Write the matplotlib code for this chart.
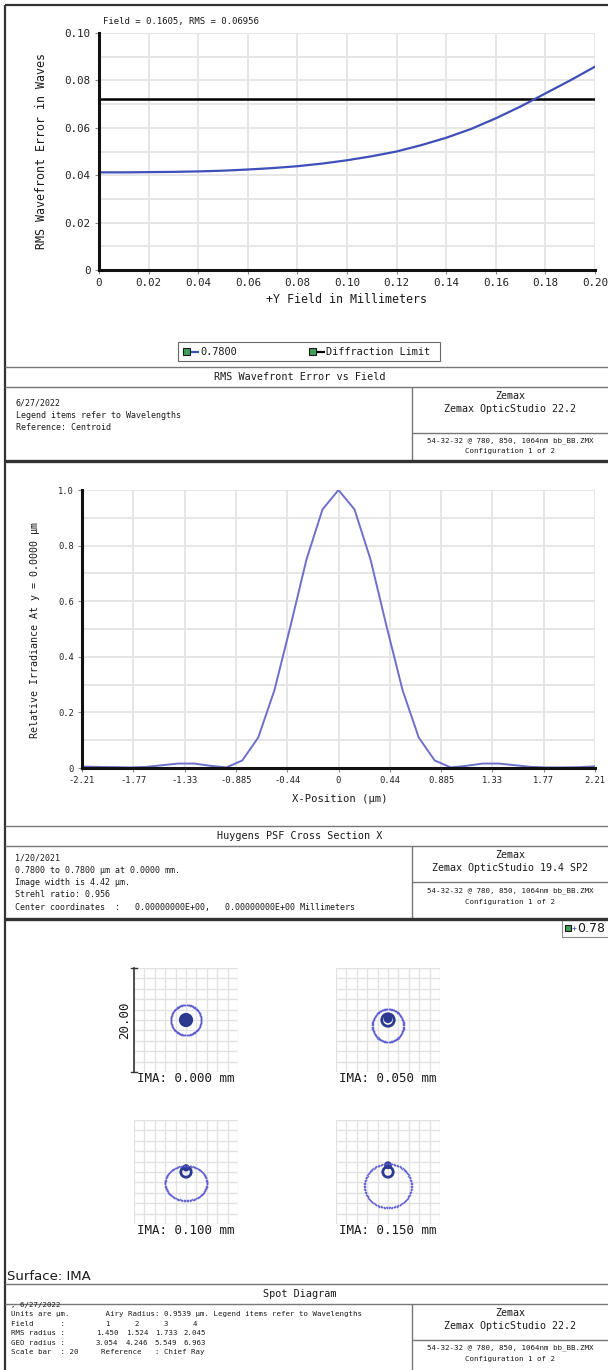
import numpy as np
import matplotlib
matplotlib.use("Agg")
import matplotlib.pyplot as plt
from matplotlib.patches import Rectangle, Circle

MONO = "DejaVu Sans Mono"
W, H = 608, 1370

# ── RMS wavefront error vs field ─────────────────────────────────────────────
field_mm = [0.00, 0.01, 0.02, 0.03, 0.04, 0.05, 0.06, 0.07, 0.08, 0.09, 0.10,
            0.11, 0.12, 0.13, 0.14, 0.15, 0.16, 0.17, 0.18, 0.19, 0.20]
rms_waves = [0.0412, 0.0412, 0.0413, 0.0414, 0.0416, 0.0419, 0.0424, 0.0430,
             0.0438, 0.0449, 0.0463, 0.0480, 0.0500, 0.0527, 0.0558, 0.0595,
             0.0640, 0.0690, 0.0745, 0.0800, 0.0858]
diff_limit = 0.072
rms_xticks = [0, 0.02, 0.04, 0.06, 0.08, 0.10, 0.12, 0.14, 0.16, 0.18, 0.20]
rms_xlabels = ["0", "0.02", "0.04", "0.06", "0.08", "0.10", "0.12", "0.14",
               "0.16", "0.18", "0.20"]
rms_yticks = [0, 0.02, 0.04, 0.06, 0.08, 0.10]
rms_ylabels = ["0", "0.02", "0.04", "0.06", "0.08", "0.10"]
rms_ygrid = [0.01, 0.03, 0.05, 0.07, 0.09]

# ── Huygens PSF cross section ───────────────────────────────────────────────
psf_x = [-2.210, -2.072, -1.934, -1.796, -1.658, -1.519, -1.381, -1.243,
         -1.105, -0.967, -0.829, -0.691, -0.552, -0.414, -0.276, -0.138, 0.0,
         0.138, 0.276, 0.414, 0.552, 0.691, 0.829, 0.967, 1.105, 1.243, 1.381,
         1.519, 1.658, 1.796, 1.934, 2.072, 2.210]
psf_y = [0.005, 0.004, 0.003, 0.002, 0.004, 0.010, 0.016, 0.016, 0.008,
         0.002, 0.027, 0.110, 0.280, 0.510, 0.750, 0.930, 1.000,
         0.930, 0.750, 0.510, 0.280, 0.110, 0.027, 0.002, 0.008, 0.016,
         0.016, 0.010, 0.004, 0.002, 0.002, 0.003, 0.006]
psf_xticks = [-2.21, -1.768, -1.326, -0.884, -0.442, 0, 0.442, 0.884, 1.326,
              1.768, 2.21]
psf_xlabels = ["-2.21", "-1.77", "-1.33", "-0.885", "-0.44", "0", "0.44",
               "0.885", "1.33", "1.77", "2.21"]
psf_yticks = [0, 0.2, 0.4, 0.6, 0.8, 1.0]
psf_ylabels = ["0", "0.2", "0.4", "0.6", "0.8", "1.0"]
psf_ygrid = [0.1, 0.3, 0.5, 0.7, 0.9]

# ── Spot diagram (µm, relative to chief ray) ────────────────────────────────
spot_labels = ["IMA: 0.000 mm", "IMA: 0.050 mm", "IMA: 0.100 mm", "IMA: 0.150 mm"]
ring_dy = [0.0, -1.05, -2.15, -2.65]
ring_rx = [2.95, 3.05, 4.1, 4.6]
ring_ry = [2.95, 3.2, 3.4, 4.3]
core_r = [1.1, 1.2, 1.0, 1.0]
dot_dy = [0.0, 0.25, 0.8, 1.3]
dot_r = [1.1, 0.85, 0.7, 0.75]
spot_fields = ["1", "2", "3", "4"]
rms_radius = ["1.450", "1.524", "1.733", "2.045"]
geo_radius = ["3.054", "4.246", "5.549", "6.963"]

fig = plt.figure(figsize=(W / 100, H / 100), dpi=100, facecolor="white")
bg = fig.add_axes([0, 0, 1, 1])
bg.set_xlim(0, W)
bg.set_ylim(H, 0)
bg.set_axis_off()


def px_axes(x0, y0, x1, y1):
    return fig.add_axes([x0 / W, 1 - y1 / H, (x1 - x0) / W, (y1 - y0) / H])


def line(x0, y0, x1, y1, lw=1.0, color="#444444"):
    bg.plot([x0, x1], [y0, y1], color=color, lw=lw, solid_capstyle="butt")


def txt(x, y, s, size=6.5, ha="left", **kw):
    bg.text(x, y, s, fontsize=size, ha=ha, va="center", family=MONO,
            color="#1a1a1a", **kw)


def footer(top, title, left_lines, left_x, left_y0, left_dy, left_size,
           version, bottom):
    line(5, top, W, top, lw=1.0, color="#777777")
    txt(300, top + 10, title, size=7.3, ha="center")
    line(5, top + 20, W, top + 20, lw=1.0, color="#777777")
    for i, s in enumerate(left_lines):
        txt(left_x, left_y0 + i * left_dy, s, size=left_size)
    line(412, top + 20, 412, bottom, lw=1.0, color="#777777")
    txt(510, top + 29, "Zemax", size=7.2, ha="center")
    txt(510, top + 42, version, size=7.2, ha="center")


def style_axes(ax, xt, xl, yt, yl, ygrid, size):
    ax.set_xticks(xt)
    ax.set_xticklabels(xl, family=MONO, fontsize=size)
    ax.set_yticks(yt)
    ax.set_yticklabels(yl, family=MONO, fontsize=size)
    ax.set_yticks(ygrid, minor=True)
    ax.grid(True, which="both", color="#E4E4E4", lw=1.3)
    ax.set_axisbelow(True)
    for s in ("top", "right"):
        ax.spines[s].set_visible(False)
    for s in ("left", "bottom"):
        ax.spines[s].set_color("#111111")
        ax.spines[s].set_linewidth(2.2)
    ax.tick_params(which="major", length=3, width=0.8, color="#888888",
                   labelcolor="#222222", pad=3)
    ax.tick_params(which="minor", length=0)


# outer frame
line(5, 5, 5, H, lw=1.6, color="#333333")
line(5, 5, W, 5, lw=1.6, color="#333333")

# ── Panel 1 ─────────────────────────────────────────────────────────────────
ax1 = px_axes(99, 33, 595, 270)
ax1.set_xlim(0, 0.20)
ax1.set_ylim(0, 0.10)
style_axes(ax1, rms_xticks, rms_xlabels, rms_yticks, rms_ylabels, rms_ygrid, 7.8)
ax1.axhline(diff_limit, color="black", lw=1.8)
ax1.plot(field_mm, rms_waves, color="#3E4FB8", lw=1.6)
txt(103, 21, "Field = 0.1605, RMS = 0.06956", size=6.5)
txt(347, 299, "+Y Field in Millimeters", size=8.4, ha="center")
bg.text(42, 151, "RMS Wavefront Error in Waves", fontsize=8.4, rotation=90,
        ha="center", va="center", family=MONO, color="#1a1a1a")

# legend
bg.add_patch(Rectangle((178, 342), 262, 19, fill=False, ec="#666666", lw=0.8))
for ix, lab, col in [(183, "0.7800", "#3E4FB8"), (309, "Diffraction Limit", "black")]:
    bg.add_patch(Rectangle((ix, 348), 7, 7, fc="#3FA05A", ec="#1a1a1a", lw=0.8))
    line(ix + 8, 351.5, ix + 16, 351.5, lw=1.6, color=col)
    txt(ix + 17, 351.5, lab, size=7.4)

footer(367, "RMS Wavefront Error vs Field",
       ["6/27/2022", "Legend items refer to Wavelengths", "Reference: Centroid"],
       16, 403, 12, 6.0, "Zemax OpticStudio 22.2", 460)
line(412, 433, W, 433, lw=1.0, color="#777777")
txt(510, 441, "54-32-32 @ 780, 850, 1064nm bb_BB.ZMX", size=5.4, ha="center")
txt(510, 451, "Configuration 1 of 2", size=5.4, ha="center")
line(5, 461, W, 461, lw=2.4, color="#333333")

# ── Panel 2 ─────────────────────────────────────────────────────────────────
ax2 = px_axes(82, 490, 595, 768)
ax2.set_xlim(-2.21, 2.21)
ax2.set_ylim(0, 1.0)
style_axes(ax2, psf_xticks, psf_xlabels, psf_yticks, psf_ylabels, psf_ygrid, 6.3)
ax2.plot(psf_x, psf_y, color="#6C70C8", lw=1.4)
txt(340, 799, "X-Position (µm)", size=7.6, ha="center")
bg.text(35, 630, "Relative Irradiance At y = 0.0000 µm", fontsize=7.2,
        rotation=90, ha="center", va="center", family=MONO, color="#1a1a1a")

footer(826, "Huygens PSF Cross Section X",
       ["1/20/2021", "0.7800 to 0.7800 µm at 0.0000 mm.",
        "Image width is 4.42 µm.", "Strehl ratio: 0.956",
        "Center coordinates  :   0.00000000E+00,   0.00000000E+00 Millimeters"],
       15, 858, 12.3, 6.0, "Zemax OpticStudio 19.4 SP2", 918)
line(412, 882, W, 882, lw=1.0, color="#777777")
txt(510, 891, "54-32-32 @ 780, 850, 1064nm bb_BB.ZMX", size=5.4, ha="center")
txt(510, 902, "Configuration 1 of 2", size=5.4, ha="center")
line(5, 919, W, 919, lw=2.4, color="#333333")

# ── Panel 3 ─────────────────────────────────────────────────────────────────
bg.add_patch(Rectangle((562, 920), 50, 17, fill=False, ec="#888888", lw=0.8))
bg.add_patch(Rectangle((565, 925), 6, 6, fc="#3FA05A", ec="#1a1a1a", lw=0.8))
bg.plot([574], [928], "+", ms=3, mew=0.6, color="#5050C8")
bg.text(577, 928, "0.78", fontsize=9, ha="left", va="center",
        family="DejaVu Sans", color="#1a1a1a")

boxes = [(134, 968), (336, 968), (134, 1120), (336, 1120)]
theta = np.linspace(0, 2 * np.pi, 90, endpoint=False)
for i, (bx, by) in enumerate(boxes):
    ax = px_axes(bx, by, bx + 104, by + 104)
    ax.set_xlim(-10, 10)
    ax.set_ylim(-10, 10)
    ax.set_xticks(np.arange(-10, 11, 2))
    ax.set_yticks(np.arange(-10, 11, 2))
    ax.grid(True, color="#E2E2E2", lw=1.0)
    ax.set_axisbelow(True)
    ax.tick_params(length=0, labelbottom=False, labelleft=False)
    for s in ax.spines.values():
        s.set_visible(False)
    for k in (1.0, 0.97):
        ax.plot(ring_rx[i] * k * np.cos(theta),
                ring_dy[i] + ring_ry[i] * k * np.sin(theta),
                "+", ms=1.8, mew=0.4, color="#5A5AD0", alpha=0.85)
    ax.add_patch(Circle((0, 0), core_r[i], fill=False, ec="#2B3A8F", lw=2.0))
    ax.add_patch(Circle((0, dot_dy[i]), dot_r[i], fc="#2B3A8F", ec="none"))
    txt(bx + 52, by + 110, spot_labels[i], size=9, ha="center")
    if i == 0:
        ax.plot([-10, -10], [-10, 10], color="#333333", lw=1.2, clip_on=False)
        ax.plot([-10.5, -9.5], [10, 10], color="#333333", lw=1.0, clip_on=False)
        ax.plot([-10.5, -9.5], [-10, -10], color="#333333", lw=1.0, clip_on=False)
        bg.text(125, 1020, "20.00", fontsize=9, rotation=90, ha="center",
                va="center", family=MONO, color="#1a1a1a")

bg.text(7, 1276, "Surface: IMA", fontsize=9.5, ha="left", va="center",
        family="DejaVu Sans", color="#1a1a1a")

footer(1284, "Spot Diagram",
       [", 6/27/2022",
        "Units are µm.        Airy Radius: 0.9539 µm. Legend items refer to Wavelengths",
        "Field      :", "RMS radius :", "GEO radius :",
        "Scale bar  : 20     Reference   : Chief Ray"],
       11, 1305, 9.4, 5.3, "Zemax OpticStudio 22.2", 1370)
col_x = [107, 137, 166, 195]
for j in range(4):
    txt(col_x[j], 1305 + 2 * 9.4, spot_fields[j], size=5.3, ha="center")
    txt(col_x[j], 1305 + 3 * 9.4, rms_radius[j], size=5.3, ha="center")
    txt(col_x[j], 1305 + 4 * 9.4, geo_radius[j], size=5.3, ha="center")
line(412, 1340, W, 1340, lw=1.0, color="#777777")
txt(510, 1348, "54-32-32 @ 780, 850, 1064nm bb_BB.ZMX", size=5.4, ha="center")
txt(510, 1359, "Configuration 1 of 2", size=5.4, ha="center")

fig.savefig("out.png", dpi=100, facecolor="white")
